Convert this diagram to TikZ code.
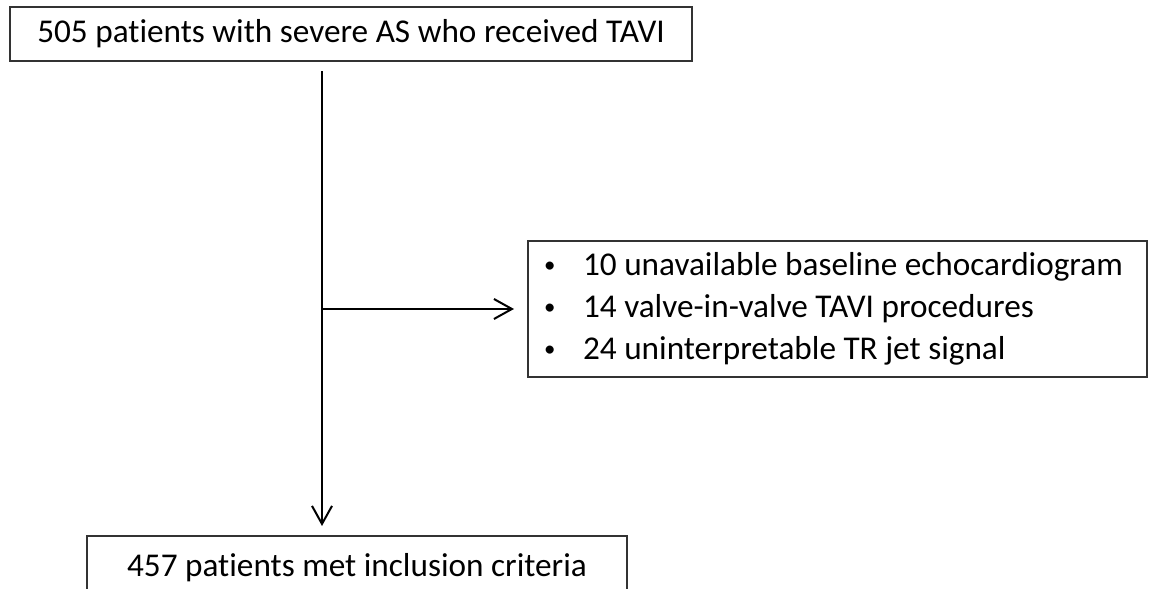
\documentclass[tikz,border=0pt]{standalone}
\usepackage{fontspec}
\setmainfont[Ligatures = NoCommon]{Carlito}
\usetikzlibrary{arrows.meta}
\newcommand{\dotitem}{\makebox[0.43cm][l]{\hspace{0.04cm}\raisebox{0.1em}{\fontsize{6.5}{6.5}\selectfont\textbullet}}}

\begin{document}
\begin{tikzpicture}[x=0.01cm, y=-0.01cm,
  box/.style = {draw = black!80, line width = 0.2mm, inner sep = 0pt, font = \fontsize{9.45}{11.95}\selectfont},
  flow/.style = {draw, line width = 0.2mm, -{Straight Barb[length = 1.8mm, width = 2mm]}}]
 \clip (0,0) rectangle (1149,589);
 \node[box, minimum width = 6.82cm, minimum height = 0.54cm] (all) at (351,34) {505 patients with severe AS who received TAVI};
 \node[box, anchor = west, inner xsep = 0.12cm, minimum height = 1.36cm] (excl) at (527,309)
  {\begin{tabular}{@{}p{5.95cm}@{}}
   \dotitem 10 unavailable baseline echocardiogram\\
   \dotitem 14 valve-in-valve TAVI procedures\\
   \dotitem 24 uninterpretable TR jet signal
   \end{tabular}};
 \node[box, minimum width = 5.40cm, minimum height = 0.64cm] (incl) at (357,568) {457 patients met inclusion criteria};
 \coordinate (split) at (322,309);
 \draw[flow, shorten < = 0.09cm, shorten > = 0.09cm] (split |- all.south) -- (split |- incl.north);
 \draw[flow, shorten > = 0.13cm] (split) -- (excl.west);
\end{tikzpicture}
\end{document}
